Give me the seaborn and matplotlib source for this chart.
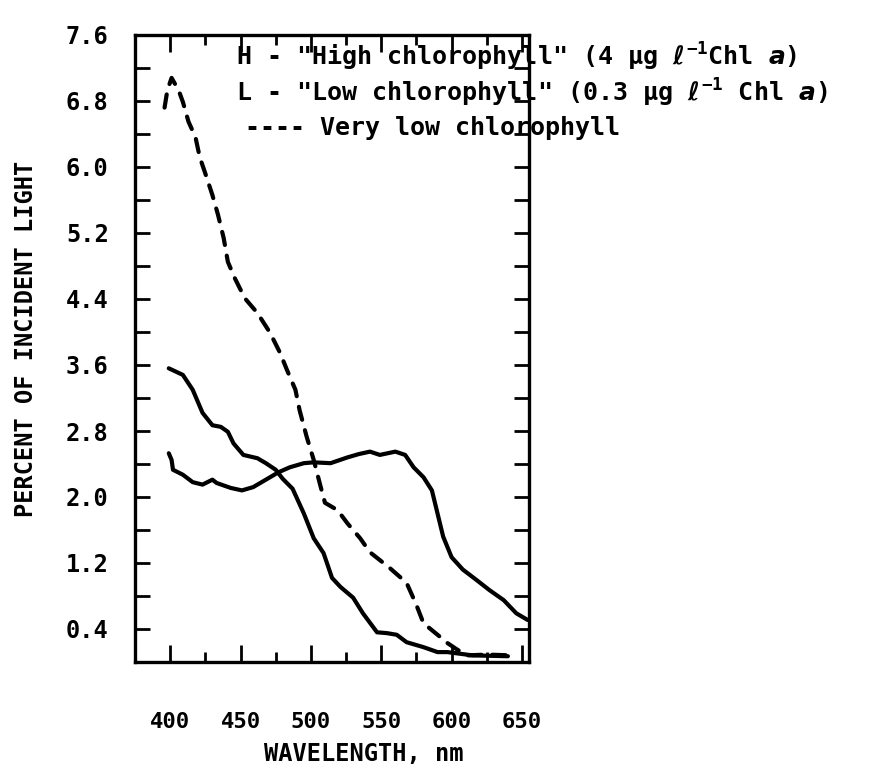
import numpy as np
import pandas as pd
import seaborn as sns
import matplotlib
matplotlib.use("Agg")
import matplotlib.pyplot as plt

# ---- data ----
vlow_wl = [396, 398, 401, 406, 409, 413, 418, 421, 425, 430, 434, 438, 441, 446, 453, 462, 471,
           478, 483, 489, 492, 497, 502, 507, 510, 519, 526, 535, 542, 556, 568, 575, 580, 590,
           597, 604, 611, 625, 643]
vlow_pct = [6.72, 6.93, 7.08, 6.93, 6.79, 6.55, 6.36, 6.12, 5.92, 5.66, 5.42, 5.14, 4.85, 4.65,
            4.41, 4.23, 3.99, 3.75, 3.54, 3.30, 3.05, 2.73, 2.45, 2.12, 1.93, 1.84, 1.68, 1.50,
            1.33, 1.14, 0.96, 0.69, 0.47, 0.33, 0.23, 0.15, 0.08, 0.09, 0.08]

low_wl = [399, 409, 416, 423, 430, 436, 441, 445, 452, 462, 468, 475, 480, 487, 495, 502, 509,
          515, 521, 530, 537, 547, 554, 561, 568, 580, 590, 597, 615, 640]
low_pct = [3.56, 3.48, 3.30, 3.02, 2.87, 2.85, 2.79, 2.65, 2.51, 2.47, 2.41, 2.33, 2.22, 2.10,
           1.80, 1.50, 1.32, 1.02, 0.91, 0.78, 0.59, 0.36, 0.35, 0.33, 0.24, 0.18, 0.12, 0.12,
           0.08, 0.07]

high_wl = [399, 401, 402, 409, 416, 423, 430, 433, 443, 451, 459, 468, 477, 485, 495, 502, 514,
           526, 534, 542, 549, 560, 567, 573, 580, 586, 590, 594, 600, 608, 618, 627, 637, 646,
           654]
high_pct = [2.53, 2.45, 2.33, 2.27, 2.18, 2.15, 2.21, 2.17, 2.11, 2.08, 2.12, 2.21, 2.30, 2.36,
            2.41, 2.42, 2.41, 2.48, 2.52, 2.55, 2.51, 2.55, 2.51, 2.36, 2.24, 2.08, 1.80, 1.52,
            1.27, 1.12, 0.99, 0.87, 0.75, 0.59, 0.51]

x_major = [400, 450, 500, 550, 600, 650]
x_minor = [425, 475, 525, 575, 625]
y_major = [0.4, 1.2, 2.0, 2.8, 3.6, 4.4, 5.2, 6.0, 6.8, 7.6]
y_minor = [0.8, 1.6, 2.4, 3.2, 4.0, 4.8, 5.6, 6.4, 7.2]

legend_lines = ['H - "High chlorophyll" (4 µg $\\ell^{-1}$Chl $a$)',
                'L - "Low chlorophyll" (0.3 µg $\\ell^{-1}$ Chl $a$)',
                '---- Very low chlorophyll']

# ---- style ----
sns.set_theme(style="ticks")
plt.rcParams['font.family'] = ['DejaVu Sans Mono', 'DejaVu Sans']
plt.rcParams['font.weight'] = 'bold'
plt.rcParams['mathtext.fontset'] = 'custom'
plt.rcParams['mathtext.rm'] = 'DejaVu Sans Mono:bold'
plt.rcParams['mathtext.bf'] = 'DejaVu Sans Mono:bold'
plt.rcParams['mathtext.it'] = 'DejaVu Sans:italic:bold'
plt.rcParams['mathtext.fallback'] = 'cm'

fig = plt.figure(figsize=(8.75, 7.74), dpi=100)
ax = fig.add_axes([135/875, 1 - 662/774, 394/875, 627/774])

df_v = pd.DataFrame({"wl": vlow_wl, "pct": vlow_pct})
df_l = pd.DataFrame({"wl": low_wl, "pct": low_pct})
df_h = pd.DataFrame({"wl": high_wl, "pct": high_pct})

sns.lineplot(data=df_l, x="wl", y="pct", ax=ax, color="black", lw=3.0, sort=False,
             estimator=None, solid_capstyle="round", solid_joinstyle="round")
sns.lineplot(data=df_h, x="wl", y="pct", ax=ax, color="black", lw=3.0, sort=False,
             estimator=None, solid_capstyle="round", solid_joinstyle="round")
sns.lineplot(data=df_v, x="wl", y="pct", ax=ax, color="black", lw=3.0, sort=False,
             estimator=None, ls=(0, (3.2, 2.6)), dash_capstyle="round")

ax.set_xlim(375, 655)
ax.set_ylim(0, 7.6)

ax.set_xticks(x_major)
ax.set_xticks(x_minor, minor=True)
ax.set_xticklabels([str(v) for v in x_major], fontsize=16, fontweight="bold")
ax.set_yticks(y_major)
ax.set_yticks(y_minor, minor=True)
ax.set_yticklabels([f"{v:.1f}" for v in y_major], fontsize=17, fontweight="bold")

ax.tick_params(axis="x", which="major", direction="in", length=12, width=2, top=True,
               bottom=True, pad=36, colors="black")
ax.tick_params(axis="x", which="minor", direction="in", length=7, width=2, top=True,
               bottom=True, colors="black")
ax.tick_params(axis="y", which="both", direction="in", length=11, width=2, left=True,
               right=True, pad=19, colors="black")

for s in ax.spines.values():
    s.set_linewidth(2.4)
    s.set_color("black")

ax.set_xlabel("WAVELENGTH, nm", fontsize=17, fontweight="bold", color="black")
ax.xaxis.set_label_coords(0.58, -0.127)
ax.set_ylabel("PERCENT OF INCIDENT LIGHT", fontsize=17, fontweight="bold", color="black")
ax.yaxis.set_label_coords(-0.245, 0.515)

ys = [57, 93, 128]
xs = [236, 236, 245]
for t, x, y in zip(legend_lines, xs, ys):
    fig.text(x / 875, 1 - y / 774, t, fontsize=18, fontweight="bold", ha="left",
             va="center", color="black")

fig.savefig("out.png", dpi=100, facecolor="white")
